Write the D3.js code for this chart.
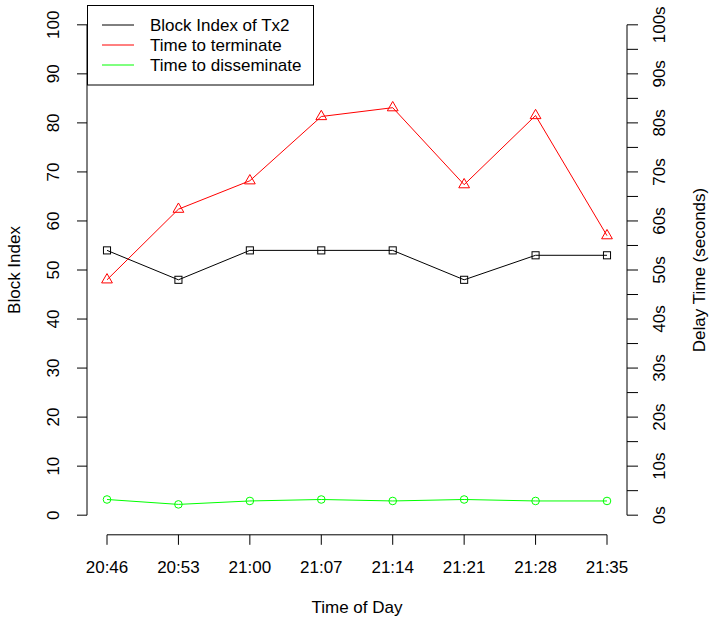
<!DOCTYPE html>
<html>
<head>
<meta charset="utf-8">
<script src="https://cdn.jsdelivr.net/npm/d3@7"></script>
<style>
  html, body { margin: 0; padding: 0; background: #fff; }
  svg { display: block; }
  text { font-family: "Liberation Sans", Arial, sans-serif; font-size: 17px; fill: #000; }
</style>
</head>
<body>
<svg id="chart" width="709" height="623"></svg>
<script>
const categories = ["20:46", "20:53", "21:00", "21:07", "21:14", "21:21", "21:28", "21:35"];
const blockIndex = [54, 48, 54, 54, 54, 48, 53, 53];
const timeToTerminate = [48.0, 62.4, 68.2, 81.3, 83.1, 67.4, 81.5, 57.0];
const timeToDisseminate = [3.2, 2.2, 2.9, 3.2, 2.9, 3.2, 2.9, 2.9];
const leftTicks = [0, 10, 20, 30, 40, 50, 60, 70, 80, 90, 100];
const rightTicks = [0, 10, 20, 30, 40, 50, 60, 70, 80, 90, 100];
const rightMinorTicks = [5, 15, 25, 35, 45, 55, 65, 75, 85, 95];
const legendLabels = ["Block Index of Tx2", "Time to terminate", "Time to disseminate"];
const seriesColors = ["#000000", "#FF0000", "#00FF00"];

const svg = d3.select("#chart");
const plot = { left: 87, right: 627, top: 5.2, bottom: 534.8 };

const x = d3.scalePoint().domain(categories).range([107, 607]);
const y = d3.scaleLinear().domain([-4, 104]).range([plot.bottom, plot.top]);

// Left axis
const gL = svg.append("g").attr("transform", `translate(${plot.left},0)`);
gL.append("line").attr("x1", 0).attr("x2", 0).attr("y1", y(0)).attr("y2", y(100)).attr("stroke", "#000");
gL.selectAll("line.t").data(leftTicks).enter().append("line").attr("class", "t")
  .attr("x1", -10).attr("x2", 0).attr("y1", d => y(d)).attr("y2", d => y(d)).attr("stroke", "#000");
gL.selectAll("text").data(leftTicks).enter().append("text")
  .attr("transform", d => `translate(${58.5 - plot.left},${y(d)}) rotate(-90)`)
  .attr("text-anchor", "middle").text(d => d);
svg.append("text").attr("transform", `translate(20,${(plot.top + plot.bottom) / 2}) rotate(-90)`)
  .attr("text-anchor", "middle").text("Block Index");

// Right axis
const gR = svg.append("g").attr("transform", `translate(${plot.right},0)`);
gR.append("line").attr("x1", 0).attr("x2", 0).attr("y1", y(0)).attr("y2", y(100)).attr("stroke", "#000");
gR.selectAll("line.t").data(rightTicks.concat(rightMinorTicks)).enter().append("line").attr("class", "t")
  .attr("x1", 0).attr("x2", 11).attr("y1", d => y(d)).attr("y2", d => y(d)).attr("stroke", "#000");
gR.selectAll("text").data(rightTicks).enter().append("text")
  .attr("transform", d => `translate(${665 - plot.right},${y(d)}) rotate(-90)`)
  .attr("text-anchor", "middle").text(d => d + "s");
svg.append("text").attr("transform", `translate(705,${(plot.top + plot.bottom) / 2}) rotate(-90)`)
  .attr("text-anchor", "middle").text("Delay Time (seconds)");

// Bottom axis
const gB = svg.append("g").attr("transform", `translate(0,${plot.bottom})`);
gB.append("line").attr("x1", x(categories[0])).attr("x2", x(categories[categories.length - 1]))
  .attr("y1", 0).attr("y2", 0).attr("stroke", "#000");
gB.selectAll("line.t").data(categories).enter().append("line").attr("class", "t")
  .attr("x1", d => x(d)).attr("x2", d => x(d)).attr("y1", 0).attr("y2", 10).attr("stroke", "#000");
gB.selectAll("text").data(categories).enter().append("text")
  .attr("x", d => x(d)).attr("y", 573 - plot.bottom).attr("text-anchor", "middle").text(d => d);
svg.append("text").attr("x", (plot.left + plot.right) / 2).attr("y", 613)
  .attr("text-anchor", "middle").text("Time of Day");

// Series
const R = 4.0;
const line = vals => d3.line().x((d, i) => x(categories[i])).y(d => y(d))(vals);

function drawSeries(vals, color, shape) {
  const g = svg.append("g");
  g.append("path").attr("d", line(vals)).attr("fill", "none").attr("stroke", color).attr("stroke-width", 1);
  vals.forEach((v, i) => {
    const cx = x(categories[i]), cy = y(v);
    if (shape === "square") {
      const h = 0.886 * R;
      g.append("rect").attr("x", cx - h).attr("y", cy - h).attr("width", 2 * h).attr("height", 2 * h)
        .attr("fill", "none").attr("stroke", color).attr("stroke-width", 1);
    } else if (shape === "triangle") {
      const r = 1.555 * R, xc = 1.347 * R, yc = 0.778 * R;
      g.append("polygon").attr("points", `${cx},${cy - r} ${cx + xc},${cy + yc} ${cx - xc},${cy + yc}`)
        .attr("fill", "none").attr("stroke", color).attr("stroke-width", 1);
    } else {
      g.append("circle").attr("cx", cx).attr("cy", cy).attr("r", R * 0.95)
        .attr("fill", "none").attr("stroke", color).attr("stroke-width", 1);
    }
  });
}
drawSeries(blockIndex, seriesColors[0], "square");
drawSeries(timeToTerminate, seriesColors[1], "triangle");
drawSeries(timeToDisseminate, seriesColors[2], "circle");

// Legend
const lg = svg.append("g");
lg.append("rect").attr("x", 87.5).attr("y", 5.5).attr("width", 226).attr("height", 79.5)
  .attr("fill", "#fff").attr("stroke", "#000");
const rowsY = [25, 45, 65];
legendLabels.forEach((lab, i) => {
  lg.append("line").attr("x1", 102).attr("x2", 134).attr("y1", rowsY[i]).attr("y2", rowsY[i])
    .attr("stroke", seriesColors[i]);
  lg.append("text").attr("x", 150).attr("y", rowsY[i] + 6).text(lab);
});
</script>
</body>
</html>
